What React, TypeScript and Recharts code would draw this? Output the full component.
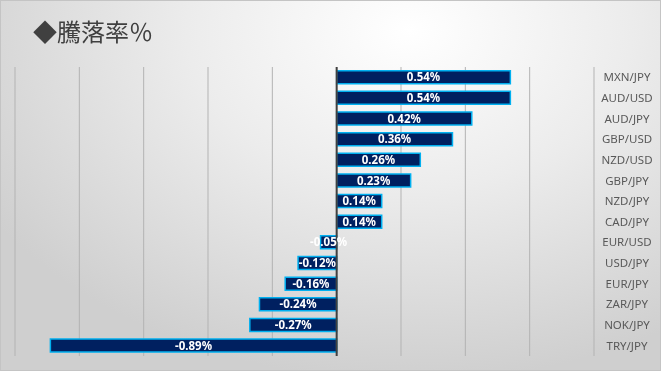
import { BarChart, Bar, XAxis, YAxis, CartesianGrid, ReferenceLine, LabelList } from "recharts";

const pairs = ["MXN/JPY", "AUD/USD", "AUD/JPY", "GBP/USD", "NZD/USD", "GBP/JPY", "NZD/JPY", "CAD/JPY", "EUR/USD", "USD/JPY", "EUR/JPY", "ZAR/JPY", "NOK/JPY", "TRY/JPY"];
const changes = [0.54, 0.54, 0.42, 0.36, 0.26, 0.23, 0.14, 0.14, -0.05, -0.12, -0.16, -0.24, -0.27, -0.89];
const xTicks = [-1, -0.8, -0.6, -0.4, -0.2, 0, 0.2, 0.4, 0.6, 0.8];

const data = pairs.map((name, i) => ({ name, value: changes[i] }));

// right-hand category labels, centred in the axis area
function PairTick(props: any) {
  const { x, y, payload } = props;
  return (
    <text x={x + 25} y={y} dy={4} textAnchor="middle" fontSize={11.5} fill="#595959" fontFamily="'Noto Sans', sans-serif">
      {payload.value}
    </text>
  );
}

export default function App() {
  return (
    <div
      style={{
        position: "fixed",
        left: 0,
        top: 0,
        width: 661,
        height: 371,
        boxSizing: "border-box",
        border: "1px solid #c4c4c4",
        background: "radial-gradient(ellipse 75% 95% at 62% 8%, #ffffff 0%, #ececec 45%, #cfcfcf 100%)",
        overflow: "hidden",
      }}
    >
      <div
        style={{
          position: "absolute",
          left: 32,
          top: 14,
          fontSize: 24,
          color: "#404040",
          fontFamily: "'Noto Sans CJK JP', sans-serif",
          lineHeight: "32px",
        }}
      >
        ◆騰落率％
      </div>
      <BarChart
        width={659}
        height={369}
        data={data}
        layout="vertical"
        margin={{ top: 66, right: 0, bottom: 14, left: 14 }}
        barCategoryGap="18%"
      >
        <CartesianGrid horizontal={false} stroke="#b3b3b3" />
        <XAxis type="number" domain={[-1, 0.8]} ticks={xTicks} hide />
        <YAxis
          type="category"
          dataKey="name"
          orientation="right"
          width={66}
          interval={0}
          axisLine={false}
          tickLine={false}
          tick={<PairTick />}
        />
        <Bar dataKey="value" fill="#002060" stroke="#00b0f0" strokeWidth={1.5} isAnimationActive={false}>
          <LabelList
            dataKey="value"
            position="center"
            fill="#ffffff"
            fontSize={11.5}
            fontWeight="bold"
            fontFamily="'Noto Sans', sans-serif"
            formatter={(v: any) => `${Number(v).toFixed(2)}%`}
          />
        </Bar>
        <ReferenceLine x={0} stroke="#404040" strokeWidth={2} />
      </BarChart>
    </div>
  );
}
